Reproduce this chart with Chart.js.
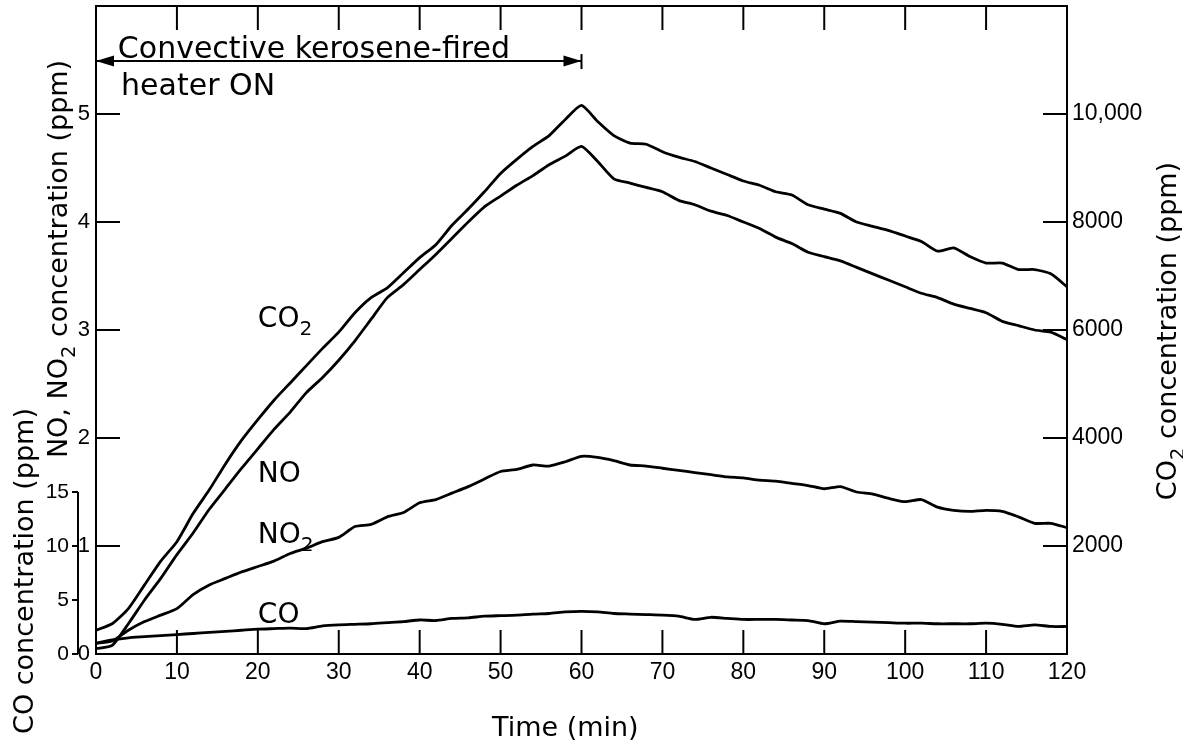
<!DOCTYPE html>
<html>
  <head>
    <title>Kerosene heater emissions</title>
    <script src="https://cdn.jsdelivr.net/npm/chart.js"></script>
    <style>
      body { margin: 0; background: #fff; }
    </style>
  </head>
  <body>
    <canvas id="heater-chart" width="1183" height="751"></canvas>

    <script>
      // Time axis (min)
      const minutes = [0, 2, 4, 6, 8, 10, 12, 14, 16, 18, 20, 22, 24, 26, 28, 30, 32, 34, 36, 38, 40,
        42, 44, 46, 48, 50, 52, 54, 56, 58, 60, 62, 64, 66, 68, 70, 72, 74, 76, 78, 80,
        82, 84, 86, 88, 90, 92, 94, 96, 98, 100, 102, 104, 106, 108, 110, 112, 114, 116, 118, 120];

      // CO2 (ppm, right axis)
      const co2Ppm = [440, 560, 840, 1280, 1720, 2080, 2600, 3040, 3520, 3960, 4340,
        4700, 5020, 5340, 5660, 5960, 6320, 6600, 6780, 7060, 7340,
        7580, 7940, 8240, 8560, 8900, 9160, 9400, 9600, 9900, 10160,
        9860, 9600, 9460, 9440, 9300, 9200, 9120, 9000, 8880, 8760,
        8680, 8560, 8500, 8320, 8240, 8160, 8000, 7920, 7840, 7740,
        7640, 7460, 7520, 7360, 7240, 7240, 7120, 7120, 7040, 6800];

      // NO and NO2 (ppm, left axis)
      const noPpm = [0.05, 0.08, 0.28, 0.50, 0.70, 0.92, 1.12, 1.34, 1.53, 1.72, 1.90,
        2.08, 2.24, 2.42, 2.56, 2.72, 2.90, 3.10, 3.30, 3.42, 3.56,
        3.70, 3.85, 4.00, 4.14, 4.24, 4.34, 4.43, 4.53, 4.61, 4.70,
        4.56, 4.40, 4.36, 4.32, 4.28, 4.20, 4.16, 4.10, 4.06, 4.00,
        3.94, 3.86, 3.80, 3.72, 3.68, 3.64, 3.58, 3.52, 3.46, 3.40,
        3.34, 3.30, 3.24, 3.20, 3.16, 3.08, 3.04, 3.00, 2.98, 2.91];

      const no2Ppm = [0.10, 0.12, 0.22, 0.30, 0.36, 0.42, 0.55, 0.64, 0.70, 0.76, 0.81,
        0.86, 0.93, 0.98, 1.04, 1.08, 1.18, 1.20, 1.27, 1.31, 1.40,
        1.43, 1.49, 1.55, 1.62, 1.69, 1.71, 1.75, 1.74, 1.78, 1.83,
        1.82, 1.79, 1.75, 1.74, 1.72, 1.70, 1.68, 1.66, 1.64, 1.63,
        1.61, 1.60, 1.58, 1.56, 1.53, 1.55, 1.50, 1.48, 1.44, 1.41,
        1.43, 1.36, 1.33, 1.32, 1.33, 1.32, 1.27, 1.21, 1.21, 1.17];

      // CO (ppm, inner left axis)
      const coPpm = [1.0, 1.3, 1.5, 1.6, 1.7, 1.8, 1.9, 2.0, 2.1, 2.2, 2.3,
        2.35, 2.4, 2.35, 2.6, 2.7, 2.75, 2.8, 2.9, 3.0, 3.15,
        3.1, 3.3, 3.35, 3.5, 3.55, 3.6, 3.7, 3.75, 3.9, 3.95,
        3.9, 3.75, 3.7, 3.65, 3.6, 3.5, 3.2, 3.4, 3.3, 3.2,
        3.2, 3.2, 3.15, 3.1, 2.8, 3.05, 3.0, 2.95, 2.9, 2.85,
        2.85, 2.8, 2.8, 2.8, 2.85, 2.75, 2.55, 2.7, 2.55, 2.55];

      // Tick values / labels
      const timeTicks = [0, 10, 20, 30, 40, 50, 60, 70, 80, 90, 100, 110, 120];
      const noTicks = [0, 1, 2, 3, 4, 5];
      const co2TickValues = [2000, 4000, 6000, 8000, 10000];
      const co2TickLabels = ['2000', '4000', '6000', '8000', '10,000'];
      const coTicks = [0, 5, 10, 15];

      const pts = (ys) => minutes.map((t, i) => ({ x: t, y: ys[i] }));

      const TICK_FONT = 'Liberation Sans';
      const TEXT_FONT = 'DejaVu Sans';

      // draw text made of [string, isSubscript] pieces
      const drawParts = (ctx, parts, x, y, size, align, rotate) => {
        ctx.save();
        ctx.translate(x, y);
        if (rotate) ctx.rotate(-Math.PI / 2);
        ctx.textBaseline = 'alphabetic';
        ctx.textAlign = 'left';
        let total = 0;
        const widths = parts.map(([s, sub]) => {
          ctx.font = (sub ? size * 0.72 : size) + 'px "' + TEXT_FONT + '"';
          const w = ctx.measureText(s).width;
          total += w;
          return w;
        });
        let cx = align === 'center' ? -total / 2 : 0;
        parts.forEach(([s, sub], i) => {
          ctx.font = (sub ? size * 0.72 : size) + 'px "' + TEXT_FONT + '"';
          ctx.fillText(s, cx, sub ? size * 0.28 : 0);
          cx += widths[i];
        });
        ctx.restore();
      };

      const curveLabels = [
        { parts: [['CO', false], ['2', true]], t: 20, v: 3.03 },
        { parts: [['NO', false]], t: 20, v: 1.59 },
        { parts: [['NO', false], ['2', true]], t: 20, v: 1.03 },
        { parts: [['CO', false]], t: 20, v: 0.29 },
      ];

      const decorations = {
        id: 'decorations',
        beforeDraw(chart) {
          const ctx = chart.ctx;
          ctx.save();
          ctx.fillStyle = '#fff';
          ctx.fillRect(0, 0, chart.width, chart.height);
          ctx.restore();
        },
        afterDraw(chart) {
          const ctx = chart.ctx;
          const { left, right, top, bottom } = chart.chartArea;
          const xs = chart.scales.x, ys = chart.scales.y;
          const yc = chart.scales.yCO2, yo = chart.scales.yCO;
          const line = (x1, y1, x2, y2) => {
            ctx.beginPath(); ctx.moveTo(x1, y1); ctx.lineTo(x2, y2); ctx.stroke();
          };
          ctx.save();
          ctx.strokeStyle = '#000';
          ctx.fillStyle = '#000';
          ctx.lineWidth = 2;
          ctx.strokeRect(left, top, right - left, bottom - top);

          // inward ticks
          timeTicks.forEach(t => {
            if (t === 0 || t === 120) return;
            const px = xs.getPixelForValue(t);
            line(px, bottom, px, bottom - 24);
            line(px, top, px, top + 24);
          });
          noTicks.forEach(v => {
            if (v === 0) return;
            const py = ys.getPixelForValue(v);
            line(left, py, left + 24, py);
          });
          co2TickValues.forEach(v => {
            const py = yc.getPixelForValue(v);
            line(right, py, right - 24, py);
          });

          // CO axis
          const coX = left - 18;
          line(coX, yo.getPixelForValue(0), coX, yo.getPixelForValue(15));
          ctx.font = '21px "' + TICK_FONT + '"';
          ctx.textAlign = 'right';
          ctx.textBaseline = 'middle';
          coTicks.forEach(v => {
            const py = yo.getPixelForValue(v);
            line(coX, py, coX - 6, py);
            ctx.fillText(String(v), coX - 9, py);
          });

          // heater-on arrow
          const ay = ys.getPixelForValue(5.49);
          const x0 = xs.getPixelForValue(0), x60 = xs.getPixelForValue(60);
          line(x0, ay, x60, ay);
          ctx.beginPath();
          ctx.moveTo(x0, ay); ctx.lineTo(x0 + 18, ay - 5.5); ctx.lineTo(x0 + 18, ay + 5.5);
          ctx.closePath(); ctx.fill();
          ctx.beginPath();
          ctx.moveTo(x60, ay); ctx.lineTo(x60 - 18, ay - 5.5); ctx.lineTo(x60 - 18, ay + 5.5);
          ctx.closePath(); ctx.fill();
          line(x60, ay - 7, x60, ay + 8);

          drawParts(ctx, [['Convective kerosene-fired', false]],
            xs.getPixelForValue(2.7), ys.getPixelForValue(5.52), 30, 'left', false);
          drawParts(ctx, [['heater ON', false]],
            xs.getPixelForValue(3.1), ys.getPixelForValue(5.18), 30, 'left', false);

          curveLabels.forEach(l => {
            drawParts(ctx, l.parts, xs.getPixelForValue(l.t), ys.getPixelForValue(l.v), 28, 'left', false);
          });

          // axis titles
          drawParts(ctx, [['Time (min)', false]], xs.getPixelForValue(58), 736, 27, 'center', false);
          drawParts(ctx, [['NO, NO', false], ['2', true], [' concentration (ppm)', false]],
            67, 259, 27, 'center', true);
          drawParts(ctx, [['CO concentration (ppm)', false]], 33, 571, 27, 'center', true);
          drawParts(ctx, [['CO', false], ['2', true], [' concentration (ppm)', false]],
            1176, 331, 27, 'center', true);
          ctx.restore();
        },
      };

      const lineStyle = { borderColor: '#000', borderWidth: 2.8, pointRadius: 0, fill: false, tension: 0.2 };

      // keep the plot box fixed: drop the label overhang padding chart.js adds
      const noOverhang = (s) => {
        s.paddingTop = 0; s.paddingBottom = 0; s.paddingLeft = 0; s.paddingRight = 0;
      };

      new Chart(document.getElementById('heater-chart'), {
        type: 'line',
        data: {
          datasets: [
            { label: 'CO2', data: pts(co2Ppm), yAxisID: 'yCO2', ...lineStyle },
            { label: 'NO', data: pts(noPpm), yAxisID: 'y', ...lineStyle },
            { label: 'NO2', data: pts(no2Ppm), yAxisID: 'y', ...lineStyle },
            { label: 'CO', data: pts(coPpm), yAxisID: 'yCO', ...lineStyle },
          ],
        },
        options: {
          responsive: false,
          animation: false,
          devicePixelRatio: 1,
          layout: { padding: { top: 6, left: 0, right: 0, bottom: 0 } },
          plugins: { legend: { display: false }, tooltip: { enabled: false } },
          scales: {
            x: {
              type: 'linear',
              position: 'bottom',
              min: 0,
              max: 120,
              afterBuildTicks: (s) => { s.ticks = timeTicks.map(v => ({ value: v })); },
              ticks: {
                autoSkip: false,
                maxRotation: 0,
                padding: 5,
                color: '#000',
                font: { family: TICK_FONT, size: 23 },
              },
              grid: { display: false, drawTicks: false },
              border: { display: false },
              afterFit: (s) => { s.height = 97; noOverhang(s); },
            },
            y: {
              position: 'left',
              min: 0,
              max: 6,
              afterBuildTicks: (s) => { s.ticks = noTicks.map(v => ({ value: v })); },
              ticks: {
                padding: 6,
                color: '#000',
                font: { family: TICK_FONT, size: 22 },
              },
              grid: { display: false, drawTicks: false },
              border: { display: false },
              afterFit: (s) => { s.width = 96; noOverhang(s); },
            },
            yCO2: {
              position: 'right',
              min: 0,
              max: 12000,
              afterBuildTicks: (s) => { s.ticks = co2TickValues.map(v => ({ value: v })); },
              ticks: {
                padding: 5,
                color: '#000',
                font: { family: TICK_FONT, size: 23 },
                callback: (v) => co2TickLabels[co2TickValues.indexOf(v)],
              },
              grid: { display: false, drawTicks: false },
              border: { display: false },
              afterFit: (s) => { s.width = 116; noOverhang(s); },
            },
            yCO: {
              display: false,
              position: 'left',
              min: 0,
              max: 60,
            },
          },
        },
        plugins: [decorations],
      });
    </script>
  </body>
</html>
